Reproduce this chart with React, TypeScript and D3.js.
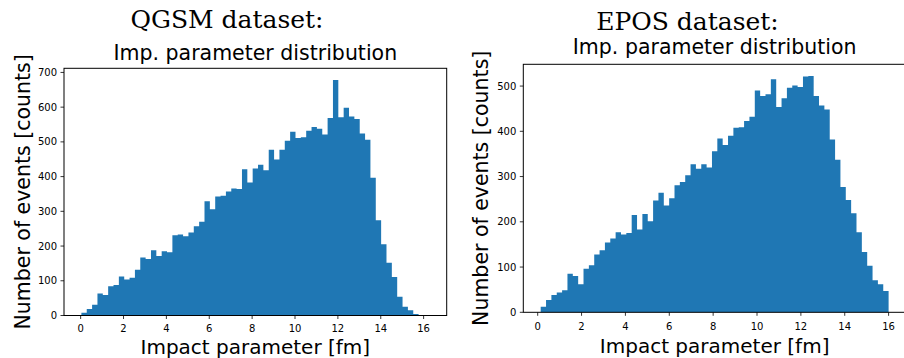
import React from 'react';
import * as d3 from 'd3';

const qgsmCounts = [
  8, 19, 31, 63, 59, 84, 88, 112, 104, 109, 132, 167, 163, 188, 171, 185, 182, 231, 233, 228,
  239, 257, 270, 329, 306, 343, 345, 357, 366, 364, 421, 383, 423, 434, 418, 477, 449, 477, 503, 529,
  511, 513, 532, 543, 538, 521, 569, 678, 571, 598, 573, 566, 524, 506, 397, 274, 205, 152, 111, 54,
  25, 15, 4, 1, 1,
];
const qgsmRange = [0.035, 16.265];

const eposCounts = [
  12, 27, 38, 44, 49, 85, 80, 62, 96, 104, 128, 137, 154, 163, 177, 172, 175, 215, 183, 217,
  201, 247, 264, 236, 252, 281, 288, 303, 327, 317, 327, 320, 356, 384, 370, 390, 408, 409, 423, 432,
  490, 478, 482, 515, 454, 473, 496, 501, 498, 521, 522, 478, 457, 448, 382, 337, 277, 248, 219, 177,
  133, 103, 71, 62, 47,
];
const eposRange = [0.137, 16.0];

const xTicks = [0, 2, 4, 6, 8, 10, 12, 14, 16];
const qgsmYTicks = [0, 100, 200, 300, 400, 500, 600, 700];
const eposYTicks = [0, 100, 200, 300, 400, 500];

const mainTitles = ['QGSM dataset:', 'EPOS dataset:'];
const subTitle = 'Imp. parameter distribution';
const xLabel = 'Impact parameter [fm]';
const yLabel = 'Number of events [counts]';

const BAR = '#1f77b4';
const SANS = '"DejaVu Sans", sans-serif';

type Frame = { left: number; right: number; top: number; bottom: number };

function Hist(props: {
  counts: number[];
  range: number[];
  yTicks: number[];
  frame: Frame;
  mainTitle: string;
  mainX: number;
  mainY: number;
  subY: number;
  yLabelX: number;
  xLabelY: number;
  tickLabelY: number;
}) {
  const { counts, range, yTicks, frame, mainTitle, mainX, mainY, subY, yLabelX, xLabelY, tickLabelY } = props;
  const [a, b] = range;
  const w = b - a;
  const n = counts.length;
  const step = w / n;
  const x = d3.scaleLinear().domain([a - 0.05 * w, b + 0.05 * w]).range([frame.left, frame.right]);
  const ymax = (d3.max(counts) as number) * 1.05;
  const y = d3.scaleLinear().domain([0, ymax]).range([frame.bottom, frame.top]);
  const cx = (frame.left + frame.right) / 2;
  const cy = (frame.top + frame.bottom) / 2;

  const p = d3.path();
  p.moveTo(x(a), y(0));
  counts.forEach((c, i) => {
    p.lineTo(x(a + i * step), y(c));
    p.lineTo(x(a + (i + 1) * step), y(c));
  });
  p.lineTo(x(b), y(0));
  p.closePath();

  return (
    <g>
      <text x={mainX} y={mainY} textAnchor="middle" fontFamily='"DejaVu Serif", serif' fontSize={25} fill="#000">
        {mainTitle}
      </text>
      <text x={cx} y={subY} textAnchor="middle" fontFamily={SANS} fontSize={20.5} fill="#000">
        {subTitle}
      </text>
      <path d={p.toString()} fill={BAR} />
      <rect x={frame.left} y={frame.top} width={frame.right - frame.left} height={frame.bottom - frame.top}
        fill="none" stroke="#000" strokeWidth={1} />
      {xTicks.map((t) => (
        <g key={'x' + t}>
          <line x1={x(t)} x2={x(t)} y1={frame.bottom} y2={frame.bottom + 3.5} stroke="#000" strokeWidth={0.8} />
          <text x={x(t)} y={tickLabelY} textAnchor="middle" fontFamily={SANS} fontSize={10} fill="#000">{t}</text>
        </g>
      ))}
      {yTicks.map((t) => (
        <g key={'y' + t}>
          <line x1={frame.left - 3.5} x2={frame.left} y1={y(t)} y2={y(t)} stroke="#000" strokeWidth={0.8} />
          <text x={frame.left - 7} y={y(t) + 3.6} textAnchor="end" fontFamily={SANS} fontSize={10} fill="#000">{t}</text>
        </g>
      ))}
      <text x={cx} y={xLabelY} textAnchor="middle" fontFamily={SANS} fontSize={20} fill="#000">{xLabel}</text>
      <text transform={`translate(${yLabelX},${cy}) rotate(-90)`} textAnchor="middle" fontFamily={SANS} fontSize={20.5} fill="#000">
        {yLabel}
      </text>
    </g>
  );
}

export default function App() {
  return (
    <svg width={904} height={358} style={{ position: 'absolute', left: 0, top: 0, background: '#fff' }}>
      <rect width={904} height={358} fill="#fff" />
      <Hist counts={qgsmCounts} range={qgsmRange} yTicks={qgsmYTicks}
        frame={{ left: 64, right: 446.7, top: 68.3, bottom: 315.5 }}
        mainTitle={mainTitles[0]} mainX={227} mainY={28} subY={59.5}
        yLabelX={30} xLabelY={354.3} tickLabelY={332} />
      <Hist counts={eposCounts} range={eposRange} yTicks={eposYTicks}
        frame={{ left: 523.3, right: 906, top: 64.3, bottom: 312.3 }}
        mainTitle={mainTitles[1]} mainX={687.5} mainY={30} subY={53.5}
        yLabelX={488} xLabelY={353.3} tickLabelY={329.5} />
    </svg>
  );
}
